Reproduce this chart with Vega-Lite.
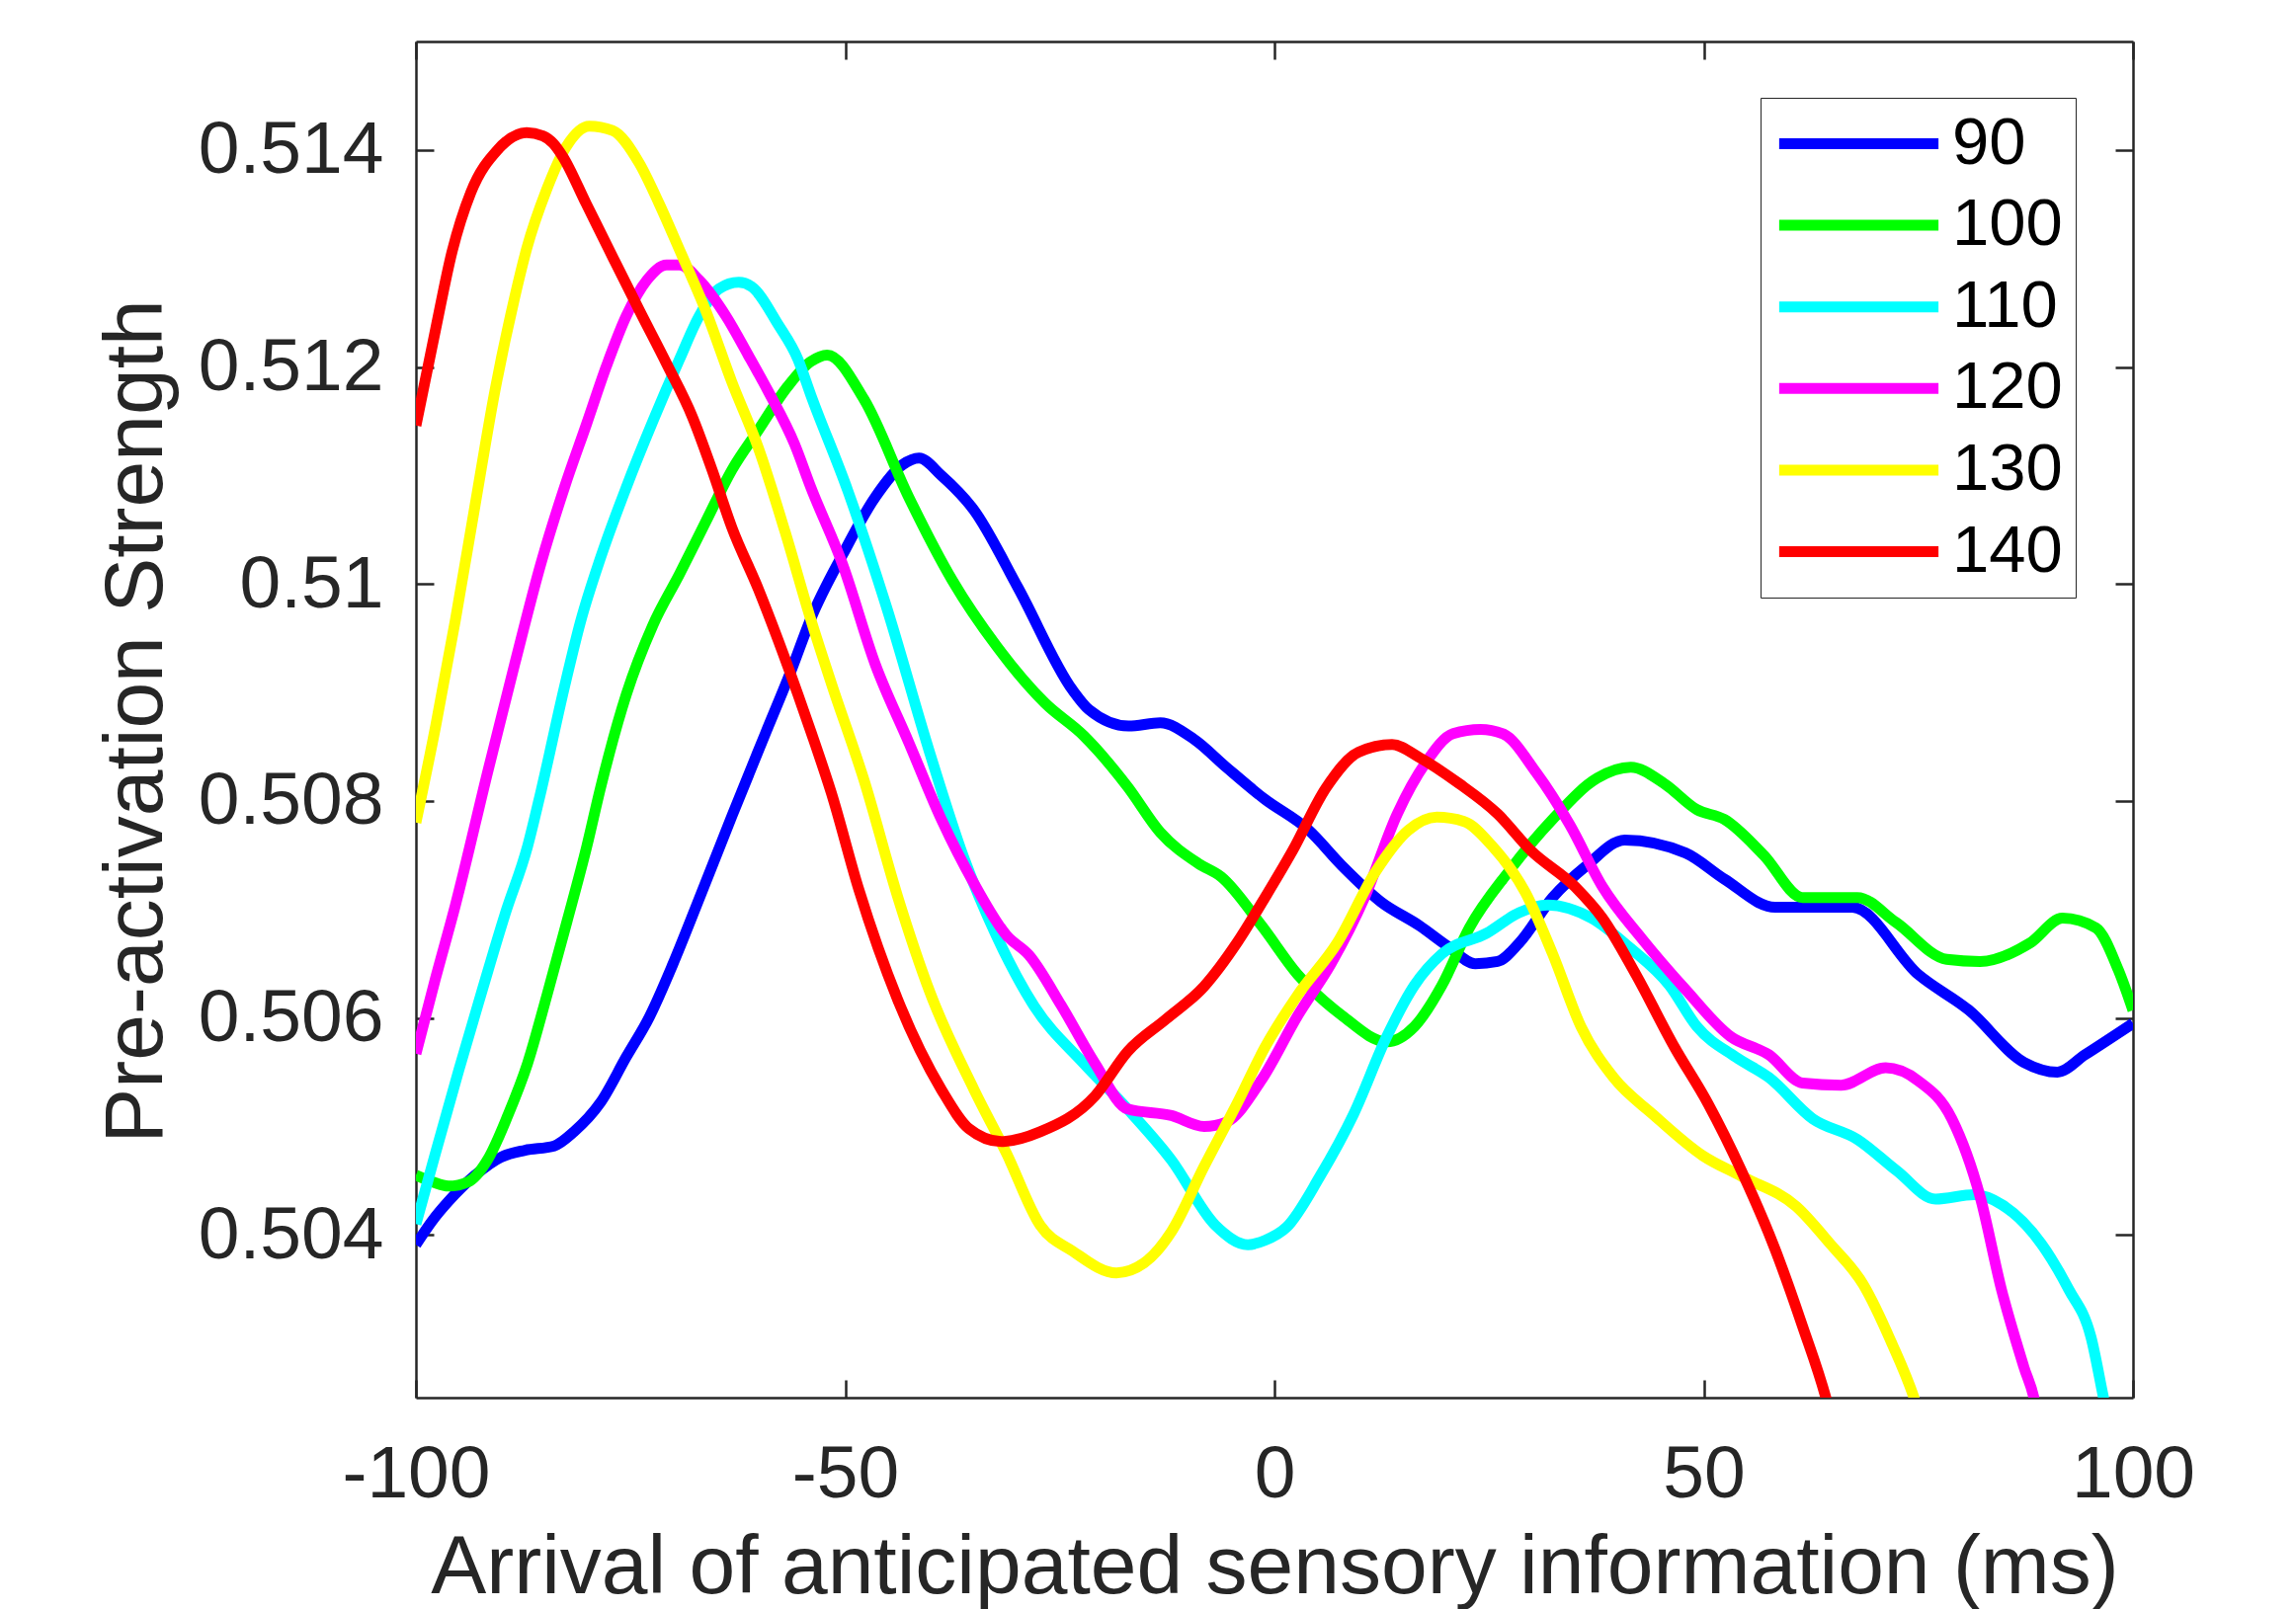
{
"$schema": "https://vega.github.io/schema/vega-lite/v6.json",
"width": 1738, "height": 1373,
"autosize": {"type": "none"},
"padding": {"left": 421, "top": 42, "right": 165, "bottom": 214},
"background": "white",
"config": {
  "view": {"stroke": null},
  "font": "Liberation Sans",
  "axis": {"domainColor": "#262626", "domainWidth": 2.5, "tickColor": "#262626", "tickWidth": 2.5, "tickSize": -18,
           "labelColor": "#262626", "labelFontSize": 75, "labelFont": "Liberation Sans", "titleFont": "Liberation Sans",
           "titleFontSize": 84, "titleFontWeight": "normal", "titleColor": "#262626", "grid": false,
           "labelFlush": false, "labelOverlap": false, "labelLimit": 0}
},
"data": {"values": [
{"t":-100,"v":0.50391,"s":"90"},{"t":-98.1,"v":0.50413,"s":"90"},{"t":-96.2,"v":0.50431,"s":"90"},{"t":-93.1,"v":0.50455,"s":"90"},{"t":-90,"v":0.50472,"s":"90"},{"t":-87.3,"v":0.50478,"s":"90"},{"t":-83.9,"v":0.50482,"s":"90"},{"t":-81.6,"v":0.50495,"s":"90"},{"t":-78.5,"v":0.50522,"s":"90"},{"t":-75.5,"v":0.50564,"s":"90"},{"t":-72.8,"v":0.50601,"s":"90"},{"t":-70.1,"v":0.50649,"s":"90"},{"t":-67.4,"v":0.50702,"s":"90"},{"t":-64.7,"v":0.50756,"s":"90"},{"t":-63.2,"v":0.50786,"s":"90"},{"t":-59.3,"v":0.50862,"s":"90"},{"t":-56.3,"v":0.5092,"s":"90"},{"t":-54,"v":0.50968,"s":"90"},{"t":-50.3,"v":0.51027,"s":"90"},{"t":-46.5,"v":0.5108,"s":"90"},{"t":-43.3,"v":0.5111,"s":"90"},{"t":-41.4,"v":0.51116,"s":"90"},{"t":-38.8,"v":0.511,"s":"90"},{"t":-35,"v":0.51068,"s":"90"},{"t":-29.9,"v":0.50997,"s":"90"},{"t":-23.5,"v":0.50902,"s":"90"},{"t":-21.6,"v":0.50884,"s":"90"},{"t":-17,"v":0.50869,"s":"90"},{"t":-13.3,"v":0.50872,"s":"90"},{"t":-9.4,"v":0.50857,"s":"90"},{"t":-5.6,"v":0.50831,"s":"90"},{"t":-1.2,"v":0.50802,"s":"90"},{"t":4,"v":0.50773,"s":"90"},{"t":7.9,"v":0.5074,"s":"90"},{"t":12.4,"v":0.50707,"s":"90"},{"t":16.9,"v":0.50685,"s":"90"},{"t":20.2,"v":0.50666,"s":"90"},{"t":23.4,"v":0.5065,"s":"90"},{"t":26,"v":0.50652,"s":"90"},{"t":28.5,"v":0.50669,"s":"90"},{"t":32.4,"v":0.50711,"s":"90"},{"t":36.3,"v":0.5074,"s":"90"},{"t":40.8,"v":0.50764,"s":"90"},{"t":47.9,"v":0.50752,"s":"90"},{"t":52.4,"v":0.50728,"s":"90"},{"t":58.3,"v":0.50702,"s":"90"},{"t":62.1,"v":0.50702,"s":"90"},{"t":67.3,"v":0.50702,"s":"90"},{"t":75,"v":0.5064,"s":"90"},{"t":80.9,"v":0.50607,"s":"90"},{"t":87.3,"v":0.50559,"s":"90"},{"t":91.2,"v":0.5055,"s":"90"},{"t":94.4,"v":0.50566,"s":"90"},{"t":100,"v":0.50595,"s":"90"},
{"t":-100,"v":0.50455,"s":"100"},{"t":-98.1,"v":0.50449,"s":"100"},{"t":-96.2,"v":0.50445,"s":"100"},{"t":-93.9,"v":0.50449,"s":"100"},{"t":-91.6,"v":0.5047,"s":"100"},{"t":-89.3,"v":0.5051,"s":"100"},{"t":-87,"v":0.50558,"s":"100"},{"t":-84.7,"v":0.50622,"s":"100"},{"t":-82.4,"v":0.50689,"s":"100"},{"t":-80.1,"v":0.50758,"s":"100"},{"t":-78.5,"v":0.50812,"s":"100"},{"t":-75.5,"v":0.50898,"s":"100"},{"t":-72.4,"v":0.50962,"s":"100"},{"t":-69.3,"v":0.51009,"s":"100"},{"t":-66.2,"v":0.51058,"s":"100"},{"t":-63.2,"v":0.51105,"s":"100"},{"t":-60.1,"v":0.51142,"s":"100"},{"t":-56.7,"v":0.51182,"s":"100"},{"t":-54,"v":0.51205,"s":"100"},{"t":-52.1,"v":0.51211,"s":"100"},{"t":-47.8,"v":0.5117,"s":"100"},{"t":-42.6,"v":0.5108,"s":"100"},{"t":-37.5,"v":0.51003,"s":"100"},{"t":-32.4,"v":0.50943,"s":"100"},{"t":-26.7,"v":0.5089,"s":"100"},{"t":-22.2,"v":0.5086,"s":"100"},{"t":-17.1,"v":0.50813,"s":"100"},{"t":-13.3,"v":0.50771,"s":"100"},{"t":-8.8,"v":0.50742,"s":"100"},{"t":-6.2,"v":0.5073,"s":"100"},{"t":-1.5,"v":0.50685,"s":"100"},{"t":2.7,"v":0.5064,"s":"100"},{"t":7.9,"v":0.50602,"s":"100"},{"t":13.1,"v":0.50578,"s":"100"},{"t":16.3,"v":0.50592,"s":"100"},{"t":19.5,"v":0.5063,"s":"100"},{"t":22.7,"v":0.50683,"s":"100"},{"t":27.3,"v":0.50735,"s":"100"},{"t":32.4,"v":0.50783,"s":"100"},{"t":37.6,"v":0.50821,"s":"100"},{"t":41.5,"v":0.50831,"s":"100"},{"t":45.4,"v":0.50816,"s":"100"},{"t":49.2,"v":0.50792,"s":"100"},{"t":52.4,"v":0.50783,"s":"100"},{"t":57,"v":0.5075,"s":"100"},{"t":61.5,"v":0.50711,"s":"100"},{"t":67.9,"v":0.50711,"s":"100"},{"t":72.4,"v":0.50688,"s":"100"},{"t":78.3,"v":0.50654,"s":"100"},{"t":82.2,"v":0.50652,"s":"100"},{"t":88,"v":0.50669,"s":"100"},{"t":91.8,"v":0.50692,"s":"100"},{"t":95.7,"v":0.50683,"s":"100"},{"t":98.3,"v":0.50644,"s":"100"},{"t":100,"v":0.50607,"s":"100"},
{"t":-100,"v":0.5041,"s":"110"},{"t":-97.7,"v":0.50476,"s":"110"},{"t":-95,"v":0.50552,"s":"110"},{"t":-92.3,"v":0.50625,"s":"110"},{"t":-89.6,"v":0.50696,"s":"110"},{"t":-87,"v":0.50758,"s":"110"},{"t":-85.4,"v":0.5081,"s":"110"},{"t":-82.7,"v":0.50905,"s":"110"},{"t":-80.8,"v":0.50966,"s":"110"},{"t":-78.5,"v":0.51024,"s":"110"},{"t":-75.5,"v":0.51089,"s":"110"},{"t":-72.4,"v":0.5115,"s":"110"},{"t":-69.3,"v":0.51207,"s":"110"},{"t":-67,"v":0.51247,"s":"110"},{"t":-64.7,"v":0.51272,"s":"110"},{"t":-62.4,"v":0.51278,"s":"110"},{"t":-60.9,"v":0.51274,"s":"110"},{"t":-57.8,"v":0.51239,"s":"110"},{"t":-55.5,"v":0.51207,"s":"110"},{"t":-54,"v":0.51174,"s":"110"},{"t":-49.7,"v":0.51086,"s":"110"},{"t":-45.2,"v":0.50979,"s":"110"},{"t":-40.1,"v":0.50843,"s":"110"},{"t":-36.2,"v":0.50748,"s":"110"},{"t":-32.4,"v":0.50676,"s":"110"},{"t":-28,"v":0.50611,"s":"110"},{"t":-22.2,"v":0.50558,"s":"110"},{"t":-17.1,"v":0.50516,"s":"110"},{"t":-12,"v":0.50469,"s":"110"},{"t":-6.9,"v":0.50409,"s":"110"},{"t":-3.1,"v":0.50391,"s":"110"},{"t":-1.1,"v":0.50395,"s":"110"},{"t":1.4,"v":0.50407,"s":"110"},{"t":5.3,"v":0.50454,"s":"110"},{"t":9.2,"v":0.50511,"s":"110"},{"t":13.1,"v":0.50583,"s":"110"},{"t":16.3,"v":0.5063,"s":"110"},{"t":19.5,"v":0.50659,"s":"110"},{"t":24.7,"v":0.50678,"s":"110"},{"t":28.5,"v":0.50697,"s":"110"},{"t":31.8,"v":0.50704,"s":"110"},{"t":36.9,"v":0.50692,"s":"110"},{"t":41.5,"v":0.50664,"s":"110"},{"t":46,"v":0.5063,"s":"110"},{"t":49.2,"v":0.50592,"s":"110"},{"t":53.7,"v":0.50564,"s":"110"},{"t":57.6,"v":0.50545,"s":"110"},{"t":62.7,"v":0.50507,"s":"110"},{"t":67.9,"v":0.50488,"s":"110"},{"t":72.5,"v":0.50459,"s":"110"},{"t":77,"v":0.50433,"s":"110"},{"t":81.5,"v":0.50437,"s":"110"},{"t":84.7,"v":0.50428,"s":"110"},{"t":89.3,"v":0.50392,"s":"110"},{"t":92.5,"v":0.5035,"s":"110"},{"t":95.1,"v":0.50306,"s":"110"},{"t":96.7,"v":0.50245,"s":"110"},{"t":98,"v":0.502,"s":"110"},
{"t":-100,"v":0.50567,"s":"120"},{"t":-97.7,"v":0.50637,"s":"120"},{"t":-95.4,"v":0.50704,"s":"120"},{"t":-91.6,"v":0.50828,"s":"120"},{"t":-88.5,"v":0.50926,"s":"120"},{"t":-85.4,"v":0.5102,"s":"120"},{"t":-82.7,"v":0.51089,"s":"120"},{"t":-80.1,"v":0.51148,"s":"120"},{"t":-77.8,"v":0.51201,"s":"120"},{"t":-75.5,"v":0.51247,"s":"120"},{"t":-73.1,"v":0.5128,"s":"120"},{"t":-70.8,"v":0.51294,"s":"120"},{"t":-69.3,"v":0.51294,"s":"120"},{"t":-67,"v":0.5128,"s":"120"},{"t":-63.9,"v":0.51247,"s":"120"},{"t":-61.3,"v":0.51211,"s":"120"},{"t":-59,"v":0.51178,"s":"120"},{"t":-55.9,"v":0.51129,"s":"120"},{"t":-54,"v":0.51089,"s":"120"},{"t":-50.3,"v":0.51018,"s":"120"},{"t":-46.5,"v":0.50926,"s":"120"},{"t":-42.6,"v":0.50854,"s":"120"},{"t":-38.8,"v":0.50783,"s":"120"},{"t":-35,"v":0.50724,"s":"120"},{"t":-31.2,"v":0.50676,"s":"120"},{"t":-28.6,"v":0.50658,"s":"120"},{"t":-24.8,"v":0.50611,"s":"120"},{"t":-20.9,"v":0.50558,"s":"120"},{"t":-17.1,"v":0.50516,"s":"120"},{"t":-12,"v":0.5051,"s":"120"},{"t":-8.2,"v":0.505,"s":"120"},{"t":-5.6,"v":0.50504,"s":"120"},{"t":-1.5,"v":0.50543,"s":"120"},{"t":2.7,"v":0.50602,"s":"120"},{"t":6.6,"v":0.5065,"s":"120"},{"t":10.5,"v":0.50711,"s":"120"},{"t":14.3,"v":0.50788,"s":"120"},{"t":17.6,"v":0.50835,"s":"120"},{"t":20.8,"v":0.50862,"s":"120"},{"t":24,"v":0.50866,"s":"120"},{"t":26.6,"v":0.50862,"s":"120"},{"t":30.5,"v":0.50826,"s":"120"},{"t":34.4,"v":0.50778,"s":"120"},{"t":38.2,"v":0.50721,"s":"120"},{"t":42.8,"v":0.50673,"s":"120"},{"t":47.9,"v":0.50626,"s":"120"},{"t":53.1,"v":0.50583,"s":"120"},{"t":57.6,"v":0.50566,"s":"120"},{"t":61.5,"v":0.5054,"s":"120"},{"t":66,"v":0.50538,"s":"120"},{"t":71.2,"v":0.50554,"s":"120"},{"t":75,"v":0.50542,"s":"120"},{"t":78.9,"v":0.50507,"s":"120"},{"t":82.2,"v":0.50435,"s":"120"},{"t":84.7,"v":0.50349,"s":"120"},{"t":87.3,"v":0.50278,"s":"120"},{"t":88.6,"v":0.50245,"s":"120"},{"t":89.5,"v":0.502,"s":"120"},
{"t":-100,"v":0.5078,"s":"130"},{"t":-97.7,"v":0.50869,"s":"130"},{"t":-95.4,"v":0.50967,"s":"130"},{"t":-93.1,"v":0.51073,"s":"130"},{"t":-90.8,"v":0.51178,"s":"130"},{"t":-88.5,"v":0.51264,"s":"130"},{"t":-87.1,"v":0.51309,"s":"130"},{"t":-84.8,"v":0.51363,"s":"130"},{"t":-82.5,"v":0.51403,"s":"130"},{"t":-79.8,"v":0.51422,"s":"130"},{"t":-77.1,"v":0.51418,"s":"130"},{"t":-74,"v":0.51388,"s":"130"},{"t":-71.7,"v":0.51351,"s":"130"},{"t":-69.3,"v":0.51308,"s":"130"},{"t":-66.2,"v":0.51251,"s":"130"},{"t":-63.2,"v":0.51186,"s":"130"},{"t":-60.1,"v":0.51125,"s":"130"},{"t":-57,"v":0.51048,"s":"130"},{"t":-54,"v":0.50967,"s":"130"},{"t":-51.6,"v":0.50908,"s":"130"},{"t":-47.8,"v":0.50819,"s":"130"},{"t":-43.9,"v":0.50712,"s":"130"},{"t":-40.1,"v":0.50623,"s":"130"},{"t":-35,"v":0.50534,"s":"130"},{"t":-31.2,"v":0.50475,"s":"130"},{"t":-27.3,"v":0.50409,"s":"130"},{"t":-23.5,"v":0.50385,"s":"130"},{"t":-18.4,"v":0.50365,"s":"130"},{"t":-15.2,"v":0.50374,"s":"130"},{"t":-12,"v":0.50403,"s":"130"},{"t":-8.2,"v":0.50463,"s":"130"},{"t":-4.3,"v":0.50522,"s":"130"},{"t":-1.1,"v":0.50573,"s":"130"},{"t":2.7,"v":0.50621,"s":"130"},{"t":7.3,"v":0.50669,"s":"130"},{"t":11.8,"v":0.50735,"s":"130"},{"t":15.6,"v":0.50773,"s":"130"},{"t":18.9,"v":0.50785,"s":"130"},{"t":22.1,"v":0.50781,"s":"130"},{"t":25.3,"v":0.50759,"s":"130"},{"t":29.2,"v":0.50716,"s":"130"},{"t":32.4,"v":0.50659,"s":"130"},{"t":35.7,"v":0.50592,"s":"130"},{"t":39.5,"v":0.50545,"s":"130"},{"t":44.1,"v":0.50511,"s":"130"},{"t":49.9,"v":0.50473,"s":"130"},{"t":54.4,"v":0.50454,"s":"130"},{"t":60.8,"v":0.50426,"s":"130"},{"t":64.7,"v":0.50392,"s":"130"},{"t":68.6,"v":0.50354,"s":"130"},{"t":71.8,"v":0.50302,"s":"130"},{"t":74.7,"v":0.50245,"s":"130"},{"t":76,"v":0.5021,"s":"130"},
{"t":-100,"v":0.51146,"s":"140"},{"t":-97.7,"v":0.51235,"s":"140"},{"t":-95.8,"v":0.51306,"s":"140"},{"t":-93.6,"v":0.51361,"s":"140"},{"t":-90.5,"v":0.514,"s":"140"},{"t":-87.1,"v":0.51416,"s":"140"},{"t":-85.2,"v":0.51413,"s":"140"},{"t":-84,"v":0.51406,"s":"140"},{"t":-82.9,"v":0.51394,"s":"140"},{"t":-80.2,"v":0.51351,"s":"140"},{"t":-77,"v":0.513,"s":"140"},{"t":-73.9,"v":0.51251,"s":"140"},{"t":-70.8,"v":0.51203,"s":"140"},{"t":-67.8,"v":0.51154,"s":"140"},{"t":-65.5,"v":0.51105,"s":"140"},{"t":-63.2,"v":0.51052,"s":"140"},{"t":-60.1,"v":0.50995,"s":"140"},{"t":-57.8,"v":0.50948,"s":"140"},{"t":-55.5,"v":0.50898,"s":"140"},{"t":-54,"v":0.50864,"s":"140"},{"t":-51.6,"v":0.50807,"s":"140"},{"t":-48.4,"v":0.50718,"s":"140"},{"t":-43.9,"v":0.50617,"s":"140"},{"t":-38.8,"v":0.50534,"s":"140"},{"t":-35.6,"v":0.50498,"s":"140"},{"t":-31.8,"v":0.50486,"s":"140"},{"t":-27.3,"v":0.50495,"s":"140"},{"t":-20.9,"v":0.50528,"s":"140"},{"t":-17.1,"v":0.50569,"s":"140"},{"t":-12.6,"v":0.50599,"s":"140"},{"t":-8.2,"v":0.50629,"s":"140"},{"t":-4.3,"v":0.5067,"s":"140"},{"t":-1.1,"v":0.50711,"s":"140"},{"t":2.1,"v":0.50754,"s":"140"},{"t":6,"v":0.50812,"s":"140"},{"t":9.8,"v":0.50845,"s":"140"},{"t":13.7,"v":0.50852,"s":"140"},{"t":16.9,"v":0.5084,"s":"140"},{"t":21.5,"v":0.50816,"s":"140"},{"t":26,"v":0.50788,"s":"140"},{"t":29.9,"v":0.50754,"s":"140"},{"t":35,"v":0.50721,"s":"140"},{"t":38.2,"v":0.50692,"s":"140"},{"t":42.1,"v":0.5064,"s":"140"},{"t":46.6,"v":0.50573,"s":"140"},{"t":50.5,"v":0.50521,"s":"140"},{"t":54.4,"v":0.50459,"s":"140"},{"t":58.3,"v":0.50387,"s":"140"},{"t":61.5,"v":0.50316,"s":"140"},{"t":64.4,"v":0.50245,"s":"140"},{"t":65.5,"v":0.5021,"s":"140"}
]},
"layer": [
  {"mark": {"type": "line", "strokeWidth": 11, "interpolate": "monotone", "clip": true, "strokeJoin": "round", "strokeCap": "butt"},
   "encoding": {
     "x": {"field": "t", "type": "quantitative", "scale": {"domain": [-100, 100], "nice": false, "zero": false},
           "axis": {"orient": "bottom", "values": [-100, -50, 0, 50, 100], "labelPadding": 59,
                    "labelExpr": "replace(datum.label, '−', '-')",
                    "title": "Arrival of anticipated sensory information (ms)", "titleBaseline": "alphabetic",
                    "titleX": 869, "titleY": 197, "titleAlign": "center", "titleAnchor": "middle"}},
     "y": {"field": "v", "type": "quantitative", "scale": {"domain": [0.5025, 0.515], "nice": false, "zero": false},
           "axis": {"orient": "left", "values": [0.504, 0.506, 0.508, 0.51, 0.512, 0.514], "format": "~g",
                    "labelPadding": 51, "labelBaseline": "middle", "labelLimit": 0,
                    "title": "Pre-activation Strength", "titleBaseline": "alphabetic", "titleAngle": -90,
                    "titleX": -258, "titleY": 688, "titleAlign": "center", "titleAnchor": "middle"}},
     "color": {"field": "s", "type": "nominal", "sort": ["90", "100", "110", "120", "130", "140"],
               "scale": {"domain": ["90", "100", "110", "120", "130", "140"],
                         "range": ["#0000ff", "#00ff00", "#00ffff", "#ff00ff", "#ffff00", "#ff0000"]},
               "legend": {"orient": "none", "legendX": 1361, "legendY": 57, "title": null,
                          "symbolType": "stroke", "symbolSize": 26000, "symbolStrokeWidth": 11,
                          "labelFontSize": 67, "labelFont": "Liberation Sans", "labelColor": "#000000",
                          "labelOffset": 8, "padding": 13, "rowPadding": 14.6, "clipHeight": 67,
                          "strokeColor": "#262626", "fillColor": "#ffffff"}}
   }},
  {"mark": {"type": "point", "opacity": 0, "clip": true},
   "encoding": {
     "x": {"field": "t", "type": "quantitative",
           "axis": {"orient": "top", "values": [-100, -50, 0, 50, 100], "labels": false, "title": null}},
     "y": {"field": "v", "type": "quantitative",
           "axis": {"orient": "right", "values": [0.504, 0.506, 0.508, 0.51, 0.512, 0.514], "labels": false, "title": null}}
   }}
],
"resolve": {"axis": {"x": "independent", "y": "independent"}}
}
